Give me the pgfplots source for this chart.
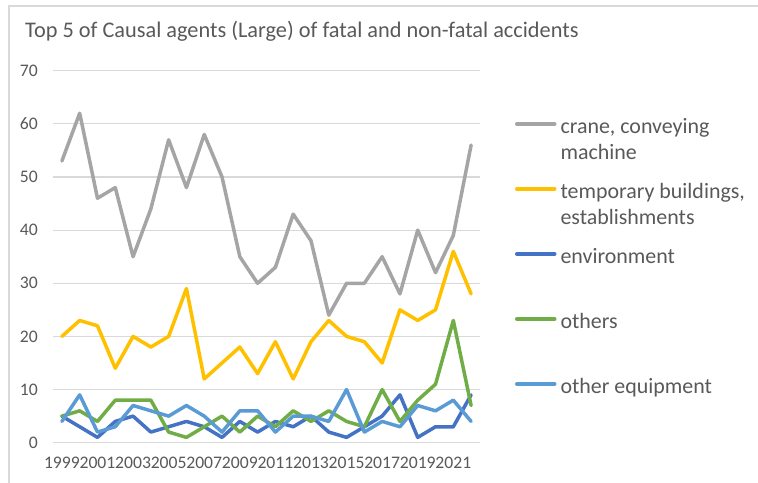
\documentclass[border=0pt]{standalone}
\usepackage{pgfplots}
\pgfplotsset{compat=1.18}
\usepackage{fontspec}
\setmainfont{Carlito}
\definecolor{txt}{HTML}{595959}
\definecolor{gridc}{HTML}{D9D9D9}
\definecolor{sgray}{HTML}{A5A5A5}
\definecolor{syellow}{HTML}{FFC000}
\definecolor{sdblue}{HTML}{4472C4}
\definecolor{sgreen}{HTML}{70AD47}
\definecolor{slblue}{HTML}{5B9BD5}
\begin{document}
\begin{tikzpicture}[x=1bp,y=1bp]
\useasboundingbox (0,0) rectangle (758,483);
\draw[gridc, line width=1.2bp] (9,0) -- (9,477) -- (758,477);
\node[anchor=base west, inner sep=0pt, text=txt, font=\fontsize{22.4}{26}\selectfont] at (25,445) {Top 5 of Causal agents (Large) of fatal and non-fatal accidents};
\begin{axis}[
  at={(53bp,40.3bp)}, anchor=south west, scale only axis,
  width=427bp, height=372bp,
  xmin=1998.5, xmax=2022.5, ymin=0, ymax=70,
  xtick={1999,2001,...,2021},
  xticklabels={1999,2001,2003,2005,2007,2009,2011,2013,2015,2017,2019,2021},
  ytick={0,10,...,70},
  axis line style={draw=none}, major tick style={draw=none},
  ymajorgrids, grid style={gridc, line width=1.2bp},
  /pgf/number format/assume math mode=true,
  tick label style={text=txt, font=\fontsize{17.7}{21}\selectfont, inner sep=0pt},
  xticklabel style={anchor=base, yshift=-26bp},
  yticklabel style={anchor=east, xshift=-15bp},
  legend style={draw=none, fill=none, inner sep=0pt, outer sep=0pt,
    at={(1.082,0.8755)}, anchor=north west,
    row sep=0pt, column sep=4bp,
    font=\fontsize{22}{27}\selectfont, text=txt,
    nodes={inner sep=0pt, text height=16bp, text depth=49bp}},
  legend cell align=left,
  legend image code/.code={\draw[#1] (0bp,25.5bp) -- (38bp,25.5bp);},
  every axis plot/.append style={line width=3.5bp, line join=round, line cap=round},
]
\addplot[sgray] coordinates {(1999,53)(2000,62)(2001,46)(2002,48)(2003,35)(2004,44)(2005,57)(2006,48)(2007,58)(2008,50)(2009,35)(2010,30)(2011,33)(2012,43)(2013,38)(2014,24)(2015,30)(2016,30)(2017,35)(2018,28)(2019,40)(2020,32)(2021,39)(2022,56)};
\addlegendentry{\parbox[t]{200bp}{crane, conveying\\machine}}
\addplot[syellow] coordinates {(1999,20)(2000,23)(2001,22)(2002,14)(2003,20)(2004,18)(2005,20)(2006,29)(2007,12)(2008,15)(2009,18)(2010,13)(2011,19)(2012,12)(2013,19)(2014,23)(2015,20)(2016,19)(2017,15)(2018,25)(2019,23)(2020,25)(2021,36)(2022,28)};
\addlegendentry{\parbox[t]{200bp}{temporary buildings,\\establishments}}
\addplot[sdblue] coordinates {(1999,5)(2000,3)(2001,1)(2002,4)(2003,5)(2004,2)(2005,3)(2006,4)(2007,3)(2008,1)(2009,4)(2010,2)(2011,4)(2012,3)(2013,5)(2014,2)(2015,1)(2016,3)(2017,5)(2018,9)(2019,1)(2020,3)(2021,3)(2022,9)};
\addlegendentry{environment}
\addplot[sgreen] coordinates {(1999,5)(2000,6)(2001,4)(2002,8)(2003,8)(2004,8)(2005,2)(2006,1)(2007,3)(2008,5)(2009,2)(2010,5)(2011,3)(2012,6)(2013,4)(2014,6)(2015,4)(2016,3)(2017,10)(2018,4)(2019,8)(2020,11)(2021,23)(2022,7)};
\addlegendentry{others}
\addplot[slblue] coordinates {(1999,4)(2000,9)(2001,2)(2002,3)(2003,7)(2004,6)(2005,5)(2006,7)(2007,5)(2008,2)(2009,6)(2010,6)(2011,2)(2012,5)(2013,5)(2014,4)(2015,10)(2016,2)(2017,4)(2018,3)(2019,7)(2020,6)(2021,8)(2022,4)};
\addlegendentry{other equipment}
\end{axis}
\end{tikzpicture}
\end{document}
